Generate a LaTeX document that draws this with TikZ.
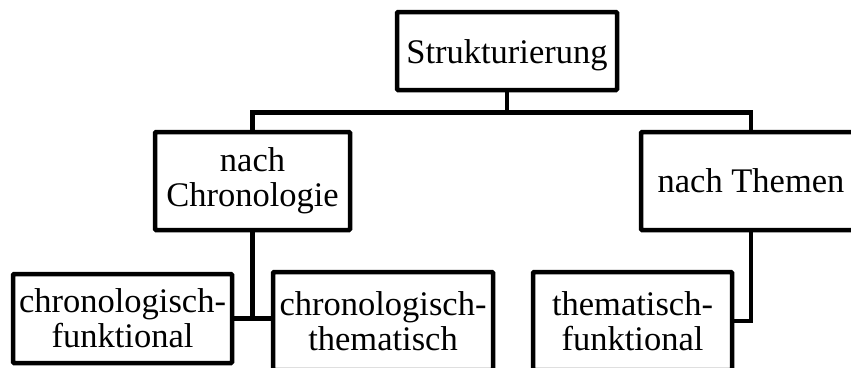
\documentclass[tikz,border=0pt]{standalone}
\usepackage{fontspec}
\setmainfont{Liberation Serif}
\begin{document}
\begin{tikzpicture}[x=1pt,y=-1pt,
  box/.style={draw=black,line width=4.5pt,rounded corners=1pt,fill=white,inner sep=0pt,
    align=center,font=\fontsize{34.5}{35}\selectfont},
  oneline/.style={text height=24pt,text depth=0pt},
  conn/.style={draw=black,line width=4.5pt}]
\clip (0,0) rectangle (851,367);
\fill[white] (0,0) rectangle (851,367);
\node[box,oneline,minimum width=220pt,minimum height=78pt] (top) at (507,51) {Strukturierung};
\node[box,minimum width=195pt,minimum height=98pt] (chrono) at (252.5,181) {nach\\Chronologie};
\node[box,text height=24pt,text depth=2pt,minimum width=220pt,minimum height=98pt] (themen) at (751,181) {nach Themen};
\node[box,minimum width=219pt,minimum height=89pt] (cf) at (122.5,318.5) {chronologisch-\\funktional};
\node[box,minimum width=220pt,minimum height=98pt] (ct) at (383,321) {chronologisch-\\thematisch};
\node[box,minimum width=199pt,minimum height=98pt] (tf) at (632.5,321) {thematisch-\\funktional};
\draw[conn] (top.south) -- ++(0,20) coordinate (j);
\draw[conn,line join=miter] (chrono.north) |- (j) -| (themen.north);
\draw[conn] (chrono.south) |- (cf.east);
\draw[conn] (cf.east) -- (cf.east -| ct.west);
\draw[conn] (themen.south) |- (tf.east);
\end{tikzpicture}
\end{document}
